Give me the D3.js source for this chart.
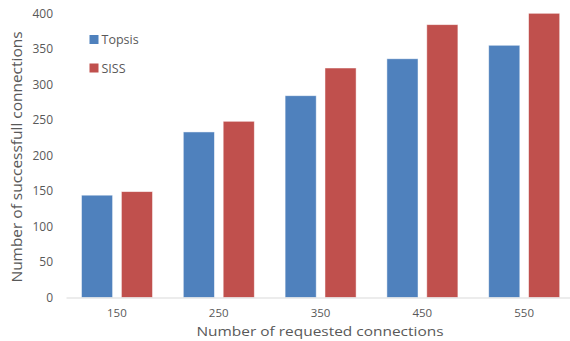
<!DOCTYPE html>
<html>
<head>
<meta charset="utf-8">
<script src="https://cdn.jsdelivr.net/npm/d3@7"></script>
<style>
  body { margin: 0; background: #fff; }
  svg text { font-family: "Open Sans", "Noto Sans", sans-serif; fill: #595959; }
</style>
</head>
<body>
<svg id="chart" width="570" height="341"></svg>
<script>
const categories = ["150", "250", "350", "450", "550"];
const seriesNames = ["Topsis", "SISS"];
const topsis = [144, 233, 284, 336, 355];
const siss = [149, 248, 323, 384, 400];
const yTicks = [0, 50, 100, 150, 200, 250, 300, 350, 400];
const colors = ["#4F81BD", "#C0504D"];

const svg = d3.select("#chart");

const x = d3.scaleBand()
    .domain(categories)
    .range([66, 575])
    .paddingInner(0)
    .paddingOuter(0);

const inner = d3.scaleBand()
    .domain(seriesNames)
    .range([15.5, 86.5])
    .paddingInner(0.22);

const y = d3.scaleLinear()
    .domain([0, 400])
    .range([297.5, 13.3]);

// y tick labels
const yAxis = d3.axisLeft(y).tickValues(yTicks).tickSize(0).tickPadding(0);
svg.append("g")
    .attr("transform", "translate(53,0)")
    .call(yAxis)
    .call(g => g.select(".domain").remove())
    .selectAll("text")
    .attr("font-size", 12)
    .style("font-family", "'Open Sans', sans-serif")
    .attr("fill", "#595959");

// bars
const rows = categories.map((c, i) => ({ cat: c, values: [topsis[i], siss[i]] }));
const groups = svg.append("g")
    .selectAll("g")
    .data(rows)
    .join("g")
    .attr("transform", d => `translate(${x(d.cat)},0)`);

groups.selectAll("rect")
    .data(d => d.values.map((v, k) => ({ name: seriesNames[k], value: v, k })))
    .join("rect")
    .attr("x", d => inner(d.name))
    .attr("width", inner.bandwidth())
    .attr("y", d => y(d.value))
    .attr("height", d => y(0) - y(d.value))
    .attr("fill", d => colors[d.k])
    .attr("stroke", "#ffffff")
    .attr("stroke-opacity", 0.6)
    .attr("stroke-width", 0.8);

// x axis
const xAxis = d3.axisBottom(x).tickSize(0).tickPadding(11);
svg.append("g")
    .attr("transform", `translate(0,${y(0)})`)
    .call(xAxis)
    .call(g => g.select(".domain").attr("stroke", "#D9D9D9").attr("stroke-width", 1.2))
    .selectAll("text")
    .attr("font-size", 11.5)
    .attr("fill", "#595959");

// axis titles
svg.append("text")
    .attr("transform", "translate(22,157) rotate(-90)")
    .attr("text-anchor", "middle")
    .attr("font-size", 14.5)
    .attr("textLength", 251)
    .attr("lengthAdjust", "spacingAndGlyphs")
    .text("Number of successfull connections");

svg.append("text")
    .attr("x", 320)
    .attr("y", 336)
    .attr("text-anchor", "middle")
    .attr("font-size", 13.5)
    .attr("textLength", 247)
    .attr("lengthAdjust", "spacingAndGlyphs")
    .text("Number of requested connections");

// legend
const legend = svg.append("g")
    .selectAll("g")
    .data(seriesNames)
    .join("g")
    .attr("transform", (d, i) => `translate(89.5,${35 + i * 28.5})`);

legend.append("rect")
    .attr("width", 9)
    .attr("height", 9)
    .attr("fill", (d, i) => colors[i]);

legend.append("text")
    .attr("x", 12)
    .attr("y", 9)
    .attr("font-size", 12.5)
    .text(d => d);
</script>
</body>
</html>
